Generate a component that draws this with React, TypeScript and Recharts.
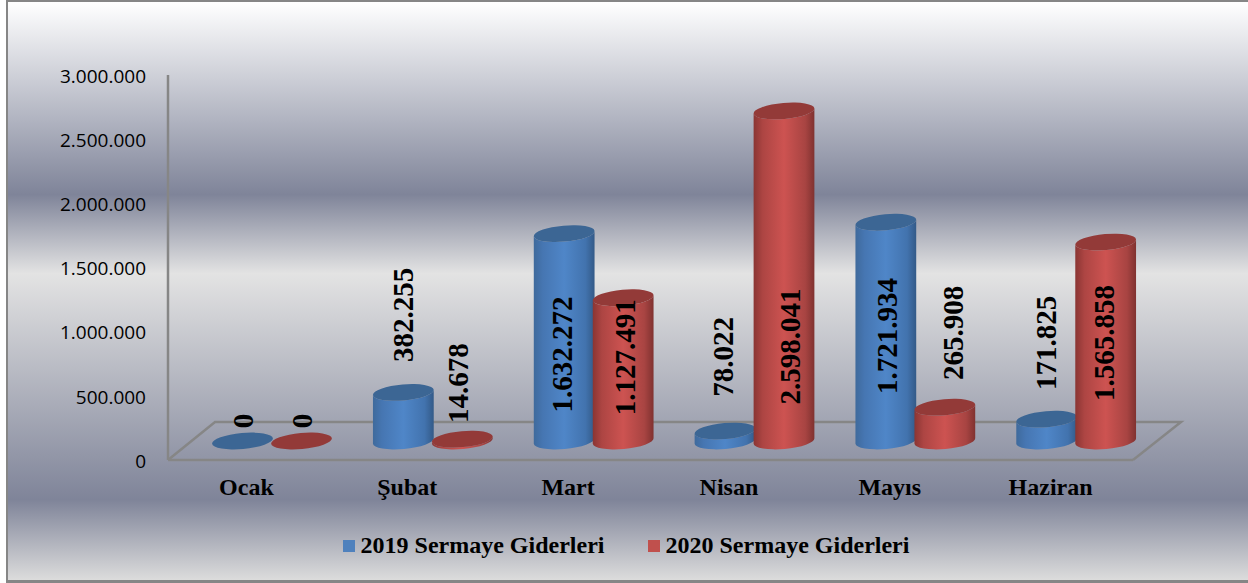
import React from 'react'
import {
  BarChart,
  Bar,
  XAxis,
  YAxis,
  Legend,
  LabelList,
  Customized,
} from 'recharts'

const months = ['Ocak', 'Şubat', 'Mart', 'Nisan', 'Mayıs', 'Haziran']
const values2019 = [0, 382255, 1632272, 78022, 1721934, 171825]
const values2020 = [0, 14678, 1127491, 2598041, 265908, 1565858]
const yTicks = [0, 500000, 1000000, 1500000, 2000000, 2500000, 3000000]

// hand placed labels in the original, [dx, dy] from the top of each bar
const labelShift2019 = [[0, -39], [0, -96], [-2, 104], [-2, -93], [1, 97], [-1, -95]]
const labelShift2020 = [[0, -39], [-4, -75], [2, 42], [6, 220], [8, -93], [-2, 84]]

const data = months.map((name, i) => ({
  name,
  y2019: values2019[i],
  y2020: values2020[i],
}))

const AXIS_GREY = '#868686'
const SERIF = '"Liberation Serif", serif'
// pseudo 3d: bars stand in the middle of the floor, a bit shorter than the front axis
const DEPTH_X = 24
const DEPTH_Y = 19
const FORESHORTEN = 0.99

const dotted = (v: number) => String(v).replace(/\B(?=(\d{3})+$)/g, '.')

const Cylinder = (props: any) => {
  const { x, y, width, height, gradient, topColor } = props
  const cx = x + width / 2 + DEPTH_X
  const base = y + height - DEPTH_Y
  const top = base - height * FORESHORTEN
  const rx = width / 2
  const ry = 8
  const tilt = 5
  const dy = rx * Math.sin((tilt * Math.PI) / 180)
  const dx = rx * Math.cos((tilt * Math.PI) / 180)
  const body =
    `M${cx - dx},${top + dy} L${cx - dx},${base + dy} ` +
    `A${rx},${ry} ${-tilt} 0 0 ${cx + dx},${base - dy} ` +
    `L${cx + dx},${top - dy} ` +
    `A${rx},${ry} ${-tilt} 0 1 ${cx - dx},${top + dy} Z`
  return (
    <g>
      <path d={body} fill={`url(#${gradient})`} />
      <ellipse
        cx={cx}
        cy={top}
        rx={rx}
        ry={ry}
        fill={topColor}
        transform={`rotate(${-tilt} ${cx} ${top})`}
      />
    </g>
  )
}

const barLabel = (shifts: number[][]) => (props: any) => {
  const { x, y, width, value, index } = props
  const [dx, dy] = shifts[index]
  const lx = x + width / 2 + DEPTH_X + dx
  const ly = y + dy
  return (
    <text
      x={lx}
      y={ly}
      transform={`rotate(-90 ${lx} ${ly})`}
      textAnchor="middle"
      dominantBaseline="central"
      fontFamily={SERIF}
      fontWeight="bold"
      fontSize={29}
      fill="#000"
    >
      {dotted(value)}
    </text>
  )
}

const Floor = () => (
  <path
    d="M168,460 L215,422 L1181,422 L1133,460"
    fill="none"
    stroke={AXIS_GREY}
    strokeWidth={2.5}
  />
)

const LegendRow = ({ payload }: any) => (
  <div style={{ display: 'flex', justifyContent: 'center', gap: 43, paddingLeft: 4 }}>
    {(payload || []).map((item: any) => (
      <div key={item.value} style={{ display: 'flex', alignItems: 'center', gap: 6 }}>
        <span style={{ width: 12, height: 12, background: item.color, display: 'block' }} />
        <span style={{ fontFamily: SERIF, fontWeight: 'bold', fontSize: 24, color: '#000' }}>
          {item.value}
        </span>
      </div>
    ))}
  </div>
)

export default function App() {
  return (
    <div style={{ position: 'absolute', left: 0, top: 0, width: 1248, height: 583 }}>
      <div
        style={{
          position: 'absolute',
          left: 6,
          top: 0,
          right: 0,
          bottom: 0,
          boxSizing: 'border-box',
          borderLeft: '2px solid #868686',
          borderTop: '2px solid #868686',
          borderBottom: '3px solid #868686',
          background:
            'linear-gradient(180deg, #ffffff 0%, #7f8499 33.3%, #e3e3e3 47%, #7f8499 86.1%, #dcdcdc 100%)',
        }}
      />
      <BarChart
        width={1248}
        height={583}
        data={data}
        margin={{ top: 75, right: 115, left: 80, bottom: 83 }}
        barSize={61}
        barGap={-2}
        style={{ position: 'absolute', left: 0, top: 0 }}
      >
        <defs>
          <linearGradient id="cylBlue" x1="0" y1="0" x2="1" y2="0">
            <stop offset="0%" stopColor="#3f6a9c" />
            <stop offset="15%" stopColor="#4676b2" />
            <stop offset="50%" stopColor="#4f86c8" />
            <stop offset="85%" stopColor="#4273ae" />
            <stop offset="100%" stopColor="#335a88" />
          </linearGradient>
          <linearGradient id="cylRed" x1="0" y1="0" x2="1" y2="0">
            <stop offset="0%" stopColor="#8a3533" />
            <stop offset="15%" stopColor="#ad4543" />
            <stop offset="50%" stopColor="#cd5351" />
            <stop offset="85%" stopColor="#a84442" />
            <stop offset="100%" stopColor="#803230" />
          </linearGradient>
        </defs>
        <Customized component={Floor} />
        <XAxis
          dataKey="name"
          height={40}
          interval={0}
          axisLine={{ stroke: AXIS_GREY, strokeWidth: 2.5 }}
          tickLine={false}
          tickMargin={12}
          dx={-2}
          tick={{ fontFamily: SERIF, fontWeight: 'bold', fontSize: 24, fill: '#000' }}
        />
        <YAxis
          width={88}
          domain={[0, 3000000]}
          ticks={yTicks}
          interval={0}
          tickFormatter={dotted}
          axisLine={{ stroke: AXIS_GREY, strokeWidth: 2.5 }}
          tickLine={false}
          tickMargin={16}
          dy={1}
          tick={{ fontFamily: '"Open Sans", sans-serif', fontSize: 19, fill: '#000' }}
        />
        <Legend
          layout="horizontal"
          verticalAlign="middle"
          align="center"
          wrapperStyle={{ left: 0, top: 532, width: 1248 }}
          content={<LegendRow />}
        />
        <Bar
          dataKey="y2019"
          name="2019 Sermaye Giderleri"
          fill="#4f81bd"
          isAnimationActive={false}
          shape={(p: any) => <Cylinder {...p} gradient="cylBlue" topColor="#3c6694" />}
        >
          <LabelList dataKey="y2019" content={barLabel(labelShift2019)} />
        </Bar>
        <Bar
          dataKey="y2020"
          name="2020 Sermaye Giderleri"
          fill="#c0504d"
          isAnimationActive={false}
          shape={(p: any) => <Cylinder {...p} gradient="cylRed" topColor="#933a38" />}
        >
          <LabelList dataKey="y2020" content={barLabel(labelShift2020)} />
        </Bar>
      </BarChart>
    </div>
  )
}
